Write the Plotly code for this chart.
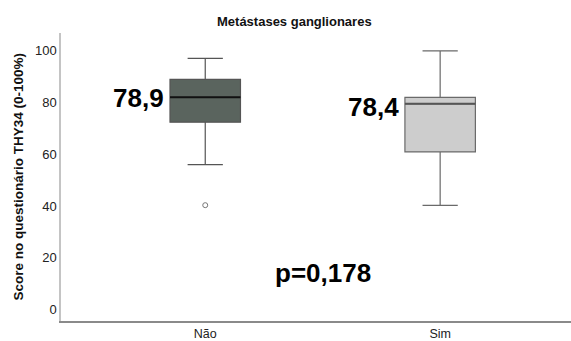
import plotly.graph_objects as go

categories = ["Não", "Sim"]
xpos = [0, 1]
q1 = [72.4, 60.9]
median = [82.0, 79.5]
q3 = [89.0, 82.0]
lowerfence = [56.0, 40.2]
upperfence = [97.1, 100.0]
outlier_x = [0]
outlier_y = [40.3]
mean_labels = ["78,9", "78,4"]
mean_label_y = [81.6, 78.4]
p_label = "p=0,178"

BOXW = 0.30
fills = ["#5a645e", "#cdcdcd"]
lines = ["#555555", "#6a6a6a"]
median_colors = ["#111111", "#555555"]
FONT = "Liberation Sans, Arial, sans-serif"

fig = go.Figure()
for i in range(2):
    fig.add_trace(go.Box(
        x=[xpos[i]], q1=[q1[i]], median=[median[i]], q3=[q3[i]],
        lowerfence=[lowerfence[i]], upperfence=[upperfence[i]],
        width=BOXW, whiskerwidth=0.5, fillcolor=fills[i],
        line=dict(color=lines[i], width=1.2), boxpoints=False,
        showlegend=False, hoverinfo="skip",
    ))
    fig.add_trace(go.Scatter(
        x=[xpos[i] - BOXW / 2, xpos[i] + BOXW / 2], y=[median[i], median[i]],
        mode="lines", line=dict(color=median_colors[i], width=2),
        showlegend=False, hoverinfo="skip",
    ))

fig.add_trace(go.Scatter(
    x=outlier_x, y=outlier_y, mode="markers",
    marker=dict(symbol="circle-open", size=5, color="#777", line=dict(width=1)),
    showlegend=False, hoverinfo="skip",
))

annotations = []
for i in range(2):
    annotations.append(dict(
        x=xpos[i] - 0.168, y=mean_label_y[i], xref="x", yref="y",
        text="<b>%s</b>" % mean_labels[i], showarrow=False,
        xanchor="right", yanchor="middle",
        font=dict(family=FONT, size=26, color="#000"),
    ))
annotations.append(dict(
    x=0.5, y=14.0, xref="x", yref="y", text="<b>%s</b>" % p_label,
    showarrow=False, xanchor="center", yanchor="middle",
    font=dict(family=FONT, size=26, color="#000"),
))

W, H = 571, 341
L, R, T, B = 61, 0, 33, 20
pw, ph = W - L - R, H - T - B

annotations.append(dict(
    x=(294.7 - L) / pw, y=(H - B - 21.7) / ph, xref="paper", yref="paper",
    xanchor="center", yanchor="middle",
    text="<b>Metástases ganglionares</b>",
    showarrow=False, font=dict(family=FONT, size=13, color="#111"),
))
annotations.append(dict(
    x=(18 - L) / pw, y=(H - B - 176.5) / ph, xref="paper", yref="paper",
    xanchor="center", yanchor="middle",
    text="<b>Score no questionário THY34 (0-100%)</b>",
    showarrow=False, textangle=-90, font=dict(family=FONT, size=13.5, color="#111"),
))

fig.update_layout(
    width=W, height=H,
    margin=dict(l=L, r=R, t=T, b=B),
    paper_bgcolor="white", plot_bgcolor="white",
    annotations=annotations,
    font=dict(family=FONT, size=13, color="#222"),
    xaxis=dict(
        range=[-0.614, 1.557], tickvals=xpos, ticktext=categories,
        showgrid=False, zeroline=False, showline=True, linecolor="#8a8a8a",
        linewidth=1.5, ticks="", tickfont=dict(size=12.5, color="#222"),
    ),
    yaxis=dict(
        range=[-4.5, 106.9], tickvals=[0, 20, 40, 60, 80, 100],
        showgrid=False, zeroline=False, showline=True, linecolor="#c4c4c4",
        linewidth=1.5, ticks="", tickfont=dict(size=13, color="#222"),
    ),
)

fig.write_html("out.html")
